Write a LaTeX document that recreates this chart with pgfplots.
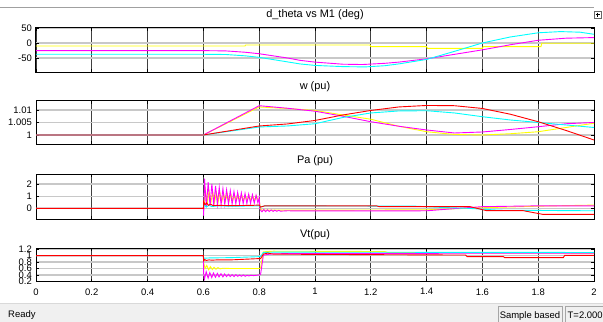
\documentclass[border=0pt]{standalone}
\usepackage{pgfplots}
\pgfplotsset{compat=1.18}
\usepackage{fontspec}
\setmainfont{Liberation Sans}
\definecolor{ygrid}{HTML}{C8C8C8}
\definecolor{xgrid}{HTML}{404040}
\definecolor{sbar}{HTML}{F0F0F0}
\definecolor{sline}{HTML}{A0A0A0}
\definecolor{myyellow}{HTML}{FFFF00}
\definecolor{mymagenta}{HTML}{FF00FF}
\definecolor{mycyan}{HTML}{00FFFF}
\definecolor{myred}{HTML}{FF0000}
\pgfplotsset{
  scopeaxis/.style={
    scale only axis, width=558bp, xmin=0, xmax=2,
    anchor=north west,
    axis line style={black, line width=1bp},
    xtick={0,0.2,0.4,0.6,0.8,1,1.2,1.4,1.6,1.8,2},
    xticklabels={},
    xmajorgrids, ymajorgrids,
    x grid style={xgrid, line width=0.8bp},
    y grid style={ygrid, line width=1.3bp},
    tick align=inside, major tick length=3bp,
    tick style={black, line width=0.8bp},
    tick label style={font=\fontsize{9.5}{10}\selectfont},
    yticklabel style={inner sep=0pt, xshift=-4bp},
    xticklabel style={inner sep=0pt, yshift=-6.5bp},
    title style={font=\fontsize{11}{13}\selectfont, at={(0.5,1)}, anchor=base, yshift=5bp, inner sep=0pt},
    every axis plot/.append style={line width=0.9bp, mark=none},
  }
}
\begin{document}
\begin{tikzpicture}
\path[use as bounding box, fill=white] (0,0) rectangle (603bp,-322bp);
\draw[sline, line width=0.8bp] (0,-7.5bp) -- (594bp,-7.5bp);
\draw[black!60, line width=0.6bp, fill=white] (594bp,-11bp) rectangle (601bp,-18bp);
\draw[black, line width=0.6bp] (595.5bp,-14.5bp) -- (599.5bp,-14.5bp) (597.5bp,-12.5bp) -- (597.5bp,-16.5bp);

% Panel 1
\begin{axis}[scopeaxis, at={(36bp,-28bp)}, height=44bp, ymin=-97, ymax=50,
  ytick={-50,0,50}, yticklabels={-50,0,50}, title={d\_theta vs M1 (deg)}]
\addplot[myyellow] coordinates {(0,-10) (0.749,-10) (0.752,-6.7) (1.197,-6.7) (1.2,-12) (1.4,-12) (1.403,-18) (1.6,-18) (1.603,-12) (1.81,-12) (1.813,-1) (2,-1)};
\addplot[mymagenta] coordinates {(0,-25.6) (0.6,-25.6) (0.68,-26.5) (0.75,-31) (0.8,-36) (0.9,-50) (0.946,-58) (1.0,-64) (1.1,-71) (1.17,-72) (1.25,-68) (1.3,-64) (1.4,-53) (1.5,-38) (1.6,-23) (1.7,-6) (1.8,9) (1.9,16) (2.0,18)};
\addplot[mycyan] coordinates {(0,-37.8) (0.6,-37.8) (0.68,-38.5) (0.75,-43) (0.8,-48) (0.9,-63) (0.946,-70) (1.0,-75) (1.1,-79) (1.18,-80) (1.25,-76) (1.3,-70) (1.4,-55) (1.5,-28) (1.6,0) (1.7,20) (1.8,34) (1.88,38) (1.95,36) (2.0,29)};
\end{axis}

% Panel 2
\begin{axis}[scopeaxis, at={(36bp,-100.7bp)}, height=43.3bp, ymin=0.9964, ymax=1.0137,
  ytick={1,1.005,1.01}, yticklabels={1,1.005,1.01}, title={w (pu)}]
\addplot[myyellow] coordinates {(0,1) (0.6,1) (0.8,1.0112) (0.9,1.0106) (1.0,1.0098) (1.1,1.008) (1.2,1.0063) (1.3,1.0035) (1.4,1.0013) (1.5,1.0002) (1.6,1.0) (1.7,1.0005) (1.8,1.0013) (1.9,1.003) (2.0,1.0047)};
\addplot[mymagenta] coordinates {(0,1) (0.6,1) (0.8,1.0117) (0.9,1.0107) (1.0,1.0095) (1.1,1.0075) (1.2,1.0053) (1.3,1.0035) (1.4,1.002) (1.5,1.0008) (1.6,1.0012) (1.7,1.0022) (1.8,1.0033) (1.9,1.0045) (2.0,1.005)};
\addplot[mycyan] coordinates {(0,1) (0.6,1) (0.8,1.0032) (0.9,1.0036) (1.0,1.0045) (1.1,1.007) (1.2,1.0088) (1.3,1.0096) (1.4,1.0097) (1.5,1.0088) (1.6,1.0073) (1.7,1.006) (1.8,1.005) (1.9,1.004) (2.0,1.003)};
\addplot[myred] coordinates {(0,1) (0.6,1) (0.8,1.0036) (0.9,1.0044) (1.0,1.0058) (1.1,1.008) (1.2,1.0098) (1.3,1.0112) (1.4,1.0118) (1.5,1.0117) (1.6,1.0106) (1.7,1.0083) (1.8,1.0053) (1.9,1.0018) (2.0,0.998)};
\end{axis}

% Panel 3
\begin{axis}[scopeaxis, at={(36bp,-174.3bp)}, height=45bp, ymin=-0.9, ymax=2.8,
  ytick={0,1,2}, yticklabels={0,1,2}, title={Pa (pu)}]
\addplot[myyellow] coordinates {(0,0) (0.6,0) (0.602,0.3) (0.607,1.5) (0.614,0.45) (0.6205,1.4) (0.627,0.5) (0.6335,1.35) (0.64,0.5) (0.6465,1.3) (0.653,0.55) (0.6595,1.25) (0.666,0.55) (0.6725,1.2) (0.679,0.6) (0.6855,1.18) (0.692,0.6) (0.6985,1.15) (0.705,0.62) (0.7115,1.12) (0.718,0.62) (0.7245,1.1) (0.731,0.64) (0.7375,1.08) (0.744,0.64) (0.7505,1.06) (0.757,0.65) (0.7635,1.05) (0.77,0.66) (0.7765,1.04) (0.783,0.66) (0.7895,1.03) (0.796,0.7) (0.8,0.6) (0.805,-0.05) (0.81,-0.15) (1.0,-0.15) (1.4,-0.12) (1.6,0.05) (1.8,0.18) (2.0,0.27)};
\addplot[mymagenta] coordinates {(0,0) (0.6,0) (0.601,-0.6) (0.604,2.45) (0.6106,0.1) (0.6172,2.15) (0.6238,0.2) (0.6304,2.0) (0.637,0.25) (0.6436,1.85) (0.6502,0.3) (0.6568,1.72) (0.6634,0.3) (0.67,1.62) (0.6766,0.32) (0.6832,1.52) (0.6898,0.35) (0.6964,1.45) (0.703,0.35) (0.7096,1.38) (0.7162,0.37) (0.7228,1.32) (0.7294,0.38) (0.736,1.27) (0.7426,0.38) (0.7492,1.22) (0.7558,0.4) (0.7624,1.17) (0.769,0.4) (0.7756,1.12) (0.7822,0.42) (0.7888,1.08) (0.7954,0.45) (0.8,0.9) (0.803,-0.1) (0.81,-0.28) (0.8165,-0.1) (0.823,-0.27) (0.83,-0.12) (0.836,-0.26) (0.843,-0.13) (0.85,-0.25) (0.856,-0.15) (0.863,-0.24) (0.87,-0.16) (0.876,-0.23) (0.9,-0.2) (1.0,-0.21) (1.2,-0.21) (1.4,-0.2) (1.5,-0.02) (1.6,0.14) (1.81,0.21) (2.0,0.2)};
\addplot[mycyan] coordinates {(0,0) (0.6,0) (0.603,0.35) (0.61,0.1) (0.62,0.25) (0.63,0.15) (0.65,0.2) (0.7,0.18) (0.8,0.2) (0.805,0.12) (0.82,0.2) (1.0,0.2) (1.36,0.18) (1.45,0.08) (1.55,0.0) (1.66,-0.15) (2.0,-0.2)};
\addplot[myred] coordinates {(0,0) (0.6,0) (0.601,0.55) (0.606,0.3) (0.612,0.45) (0.618,0.25) (0.625,0.35) (0.635,0.22) (0.65,0.25) (0.7,0.22) (0.78,0.25) (0.8,0.27) (0.805,0.1) (0.82,0.21) (1.22,0.21) (1.23,0.14) (1.556,0.14) (1.615,-0.19) (1.746,-0.19) (1.818,-0.5) (2.0,-0.5)};
\end{axis}

% Panel 4
\begin{axis}[scopeaxis, at={(36bp,-248.3bp)}, height=33.4bp, ymin=0.19, ymax=1.23,
  ytick={0.2,0.4,0.6,0.8,1,1.2}, yticklabels={0.2,0.4,0.6,0.8,1,1.2}, title={Vt(pu)},
  xticklabels={0,0.2,0.4,0.6,0.8,1,1.2,1.4,1.6,1.8,2}]
\addplot[myyellow] coordinates {(0,1) (0.6,1) (0.601,0.78) (0.606,0.6) (0.612,0.7) (0.619,0.56) (0.625,0.66) (0.632,0.57) (0.638,0.64) (0.645,0.58) (0.652,0.63) (0.66,0.59) (0.67,0.61) (0.7,0.6) (0.75,0.6) (0.8,0.6) (0.805,0.62) (0.815,1.12) (0.85,1.14) (1.25,1.13) (1.26,1.1) (2.0,1.08)};
\addplot[mymagenta] coordinates {(0,1) (0.6,1) (0.601,0.45) (0.604,0.28) (0.61,0.5) (0.617,0.3) (0.623,0.47) (0.63,0.32) (0.636,0.46) (0.643,0.33) (0.65,0.45) (0.656,0.34) (0.663,0.44) (0.67,0.34) (0.676,0.43) (0.683,0.35) (0.69,0.42) (0.696,0.35) (0.703,0.41) (0.71,0.35) (0.716,0.41) (0.723,0.36) (0.73,0.4) (0.736,0.36) (0.743,0.4) (0.75,0.36) (0.756,0.39) (0.763,0.37) (0.77,0.39) (0.78,0.38) (0.8,0.4) (0.805,0.42) (0.815,1.02) (0.85,1.06) (1.0,1.07) (2.0,1.08)};
\addplot[mycyan] coordinates {(0,1) (0.6,1) (0.601,0.92) (0.62,0.93) (0.7,0.94) (0.8,0.97) (0.805,0.97) (0.815,1.1) (0.85,1.11) (2.0,1.1)};
\addplot[myred] coordinates {(0,1) (0.6,1) (0.601,0.84) (0.605,0.88) (0.61,0.85) (0.62,0.87) (0.63,0.86) (0.65,0.87) (0.7,0.87) (0.75,0.89) (0.8,0.91) (0.805,0.91) (0.815,1.05) (0.83,1.08) (0.85,1.05) (1.0,1.04) (1.54,1.02) (1.545,0.97) (1.675,0.97) (1.68,0.94) (1.89,0.94) (1.895,1.01) (2.0,1.01)};
\end{axis}

% Status bar
\fill[sbar] (0,-303bp) rectangle (603bp,-322bp);
\draw[white!85!black, line width=0.6bp] (0,-303bp) -- (603bp,-303bp);
\node[anchor=base west, inner sep=0pt, font=\fontsize{9.5}{10}\selectfont] at (8bp,-317.5bp) {Ready};
\draw[black!35, line width=0.6bp] (498bp,-306.5bp) rectangle (562bp,-322.5bp);
\draw[black!35, line width=0.6bp] (565bp,-306.5bp) rectangle (604bp,-322.5bp);
\node[anchor=base, inner sep=0pt, font=\fontsize{9.5}{10}\selectfont] at (530bp,-318bp) {Sample based};
\node[anchor=base west, inner sep=0pt, font=\fontsize{9.5}{10}\selectfont] at (567.5bp,-318bp) {T=2.000};
\end{tikzpicture}
\end{document}
